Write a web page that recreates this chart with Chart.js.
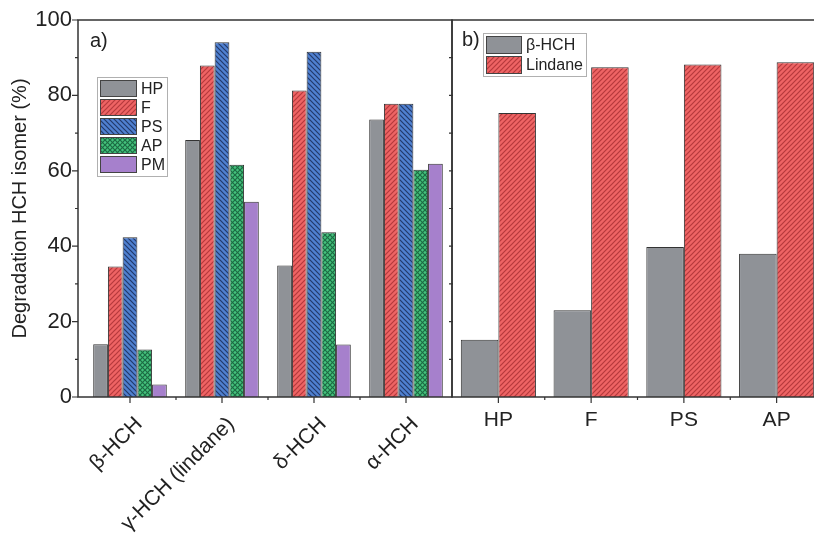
<!DOCTYPE html>
<html>
<head>
<meta charset="utf-8">
<script src="https://cdn.jsdelivr.net/npm/chart.js@4"></script>
<style>
  body { margin: 0; background: #fff; }
  #wrap { position: relative; width: 814px; height: 535px; overflow: hidden; }
  canvas { position: absolute; top: 0; }
  #ca { left: 0; }
  #cb { left: 451px; }
</style>
</head>
<body>
<div id="wrap">
  <canvas id="ca" width="453" height="535"></canvas>
  <canvas id="cb" width="380" height="535"></canvas>
</div>
<script>
// panel a) - degradation per isomer, per treatment
const isomers = ['β-HCH', 'γ-HCH (lindane)', 'δ-HCH', 'α-HCH'];
const hpVals = [14.0, 68.2, 34.9, 73.6];
const fVals  = [34.6, 87.9, 81.3, 77.8];
const psVals = [42.4, 94.1, 91.6, 77.8];
const apVals = [12.6, 61.6, 43.7, 60.3];
const pmVals = [3.3, 51.8, 13.9, 61.9];

// panel b) - beta-HCH vs lindane per treatment
const treatments = ['HP', 'F', 'PS', 'AP'];
const betaVals    = [15.2, 23.0, 39.8, 38.0];
const lindaneVals = [75.3, 87.5, 88.2, 88.8];

const yTicks = [0, 20, 40, 60, 80, 100];

Chart.defaults.font.family = '"Liberation Sans", Arial, sans-serif';
Chart.defaults.color = '#222';

// hatch fills like the original plot
function hatch(bg, fg, dir, cross) {
  const s = 5, c = document.createElement('canvas');
  c.width = s; c.height = s;
  const g = c.getContext('2d');
  g.fillStyle = bg; g.fillRect(0, 0, s, s);
  g.strokeStyle = fg; g.lineWidth = 1.2;
  const draw = d => {
    g.beginPath();
    for (const o of [-s, 0, s]) {
      if (d > 0) { g.moveTo(o - 1, s + 1); g.lineTo(o + s + 1, -1); }
      else { g.moveTo(o - 1, -1); g.lineTo(o + s + 1, s + 1); }
    }
    g.stroke();
  };
  draw(dir);
  if (cross) draw(-dir);
  return g.createPattern(c, 'repeat');
}

const gray = '#8f9297';
const red = hatch('#ee6464', '#b53a3d', 1);
const blue = hatch('#4f80d0', '#23396a', -1);
const green = hatch('#44c27c', '#1d6b44', 1, true);
const purple = '#a680cc';

const frame = {
  id: 'frame',
  afterDraw(chart, args, o) {
    const ctx = chart.ctx, a = chart.chartArea;
    const x = chart.scales.x, y = chart.scales.y;
    const left = a.left - (o.axisOffset || 0);
    ctx.save();
    ctx.strokeStyle = '#333';
    ctx.lineWidth = 1.5;
    ctx.strokeRect(left, a.top, a.right - left, a.bottom - a.top);
    ctx.lineWidth = 1.2;
    ctx.beginPath();
    for (let v = 0; v <= 100; v += 10) {
      const py = y.getPixelForValue(v), len = v % 20 ? 3 : 6;
      if (o.leftTicks) { ctx.moveTo(left - len, py); ctx.lineTo(left, py); }
      if (o.rightTicks && v % 100) { ctx.moveTo(a.right - 3, py); ctx.lineTo(a.right + 2, py); }
    }
    for (let i = 0; i < x.ticks.length; i++) {
      const px = x.getPixelForTick(i);
      ctx.moveTo(px, a.bottom); ctx.lineTo(px, a.bottom + 6);
      if (i > 0) {
        const bx = (px + x.getPixelForTick(i - 1)) / 2;
        ctx.moveTo(bx, a.bottom); ctx.lineTo(bx, a.bottom + 3);
      }
    }
    ctx.stroke();

    ctx.fillStyle = '#222';
    ctx.font = '20px "Liberation Sans"';
    ctx.textBaseline = 'alphabetic';
    ctx.fillText(o.tag, o.tagX, o.tagY);

    // legend box
    const L = o.legend;
    ctx.fillStyle = '#fff';
    ctx.fillRect(L.x, L.y, L.w, L.h);
    ctx.strokeStyle = '#b0b0b0';
    ctx.lineWidth = 1;
    ctx.strokeRect(L.x + 0.5, L.y + 0.5, L.w, L.h);
    ctx.font = '16px "Liberation Sans"';
    ctx.textBaseline = 'middle';
    chart.data.datasets.forEach((d, i) => {
      const ry = L.y + 3 + i * L.row;
      ctx.fillStyle = d.backgroundColor;
      ctx.fillRect(L.x + 3, ry, L.sw, L.row - 2);
      ctx.strokeStyle = '#444';
      ctx.strokeRect(L.x + 3.5, ry + 0.5, L.sw - 1, L.row - 3);
      ctx.fillStyle = '#222';
      ctx.fillText(d.label, L.x + L.sw + 7, ry + (L.row - 2) / 2 + 1);
    });
    ctx.restore();
  }
};

const barOpts = { borderWidth: 1, borderColor: '#333', barPercentage: 1 };

new Chart(document.getElementById('ca'), {
  type: 'bar',
  data: {
    labels: isomers,
    datasets: [
      { label: 'HP', data: hpVals, backgroundColor: gray },
      { label: 'F', data: fVals, backgroundColor: red },
      { label: 'PS', data: psVals, backgroundColor: blue },
      { label: 'AP', data: apVals, backgroundColor: green },
      { label: 'PM', data: pmVals, backgroundColor: purple }
    ]
  },
  options: {
    responsive: false,
    animation: false,
    layout: { padding: { top: 20, right: 1 } },
    datasets: { bar: Object.assign({ categoryPercentage: 0.8 }, barOpts) },
    plugins: {
      legend: { display: false },
      tooltip: { enabled: false },
      frame: {
        axisOffset: 6, leftTicks: true, rightTicks: true, tag: 'a)', tagX: 90, tagY: 47,
        legend: { x: 97, y: 77, w: 70, h: 99, row: 19, sw: 37 }
      }
    },
    scales: {
      x: {
        grid: { display: false }, border: { display: false },
        ticks: { minRotation: 45, maxRotation: 45, autoSkip: false, font: { size: 21 }, padding: 7, labelOffset: 9 },
        afterFit: s => { s.height = 138; }
      },
      y: {
        min: 0, max: 100,
        afterBuildTicks: s => { s.ticks = yTicks.map(v => ({ value: v })); },
        grid: { display: false }, border: { display: false },
        ticks: { font: { size: 22 }, padding: 4 },
        title: { display: true, text: 'Degradation HCH isomer (%)', font: { size: 20 }, padding: { top: 8, bottom: 0 } },
        afterFit: s => { s.width = 84; }
      }
    }
  },
  plugins: [frame]
});

new Chart(document.getElementById('cb'), {
  type: 'bar',
  data: {
    labels: treatments,
    datasets: [
      { label: 'β-HCH', data: betaVals, backgroundColor: gray },
      { label: 'Lindane', data: lindaneVals, backgroundColor: red }
    ]
  },
  options: {
    responsive: false,
    animation: false,
    layout: { padding: { top: 20, left: 1, right: 8 } },
    datasets: { bar: Object.assign({ categoryPercentage: 0.81 }, barOpts) },
    plugins: {
      legend: { display: false },
      tooltip: { enabled: false },
      frame: {
        leftTicks: false, rightTicks: false, tag: 'b)', tagX: 11, tagY: 46,
        legend: { x: 32, y: 33, w: 103, h: 43, row: 20, sw: 36 }
      }
    },
    scales: {
      x: {
        grid: { display: false }, border: { display: false },
        ticks: { maxRotation: 0, font: { size: 21 }, padding: 3 },
        afterFit: s => { s.height = 138; }
      },
      y: { display: false, min: 0, max: 100 }
    }
  },
  plugins: [frame]
});
</script>
</body>
</html>
